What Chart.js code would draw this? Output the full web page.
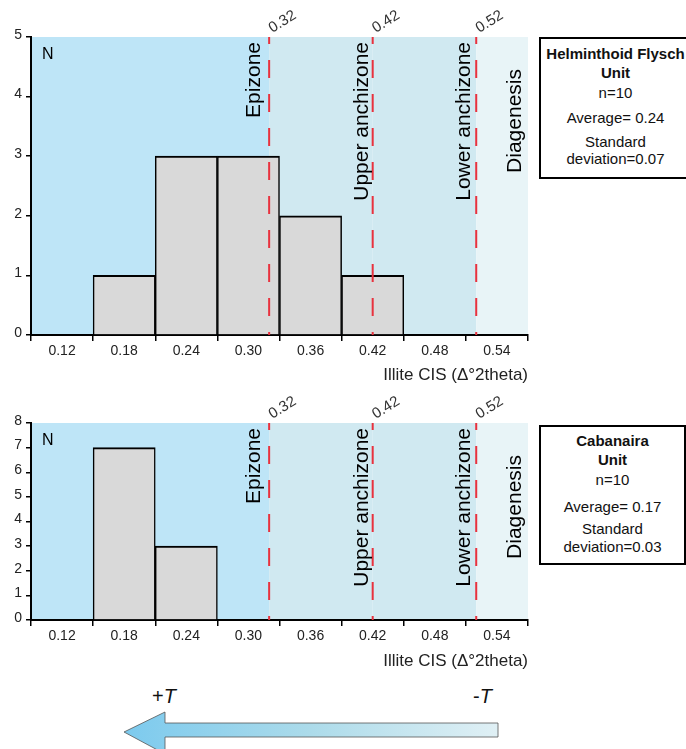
<!DOCTYPE html>
<html lang="en">
<head>
<meta charset="UTF-8">
<title>Illite CIS histograms</title>
<script src="https://cdn.jsdelivr.net/npm/chart.js"></script>
<style>
    body {
        margin: 0;
        width: 686px;
        height: 749px;
        position: relative;
        overflow: hidden;
        background: #fff;
        font-family: "Liberation Sans", Arial, sans-serif;
        color: #111;
    }
    canvas { position: absolute; left: 0; }
    #chart-top { top: 0; }
    #chart-bottom { top: 385px; }
    .box {
        position: absolute;
        left: 539px;
        border: 2px solid #000;
        box-sizing: border-box;
        background: #fff;
    }
    .box div {
        position: absolute;
        left: 0;
        right: 0;
        text-align: center;
        line-height: 18px;
        font-size: 15px;
        white-space: nowrap;
    }
    .box .b { font-weight: bold; }
    .temp {
        position: absolute;
        top: 685px;
        font-size: 20px;
        color: #111;
    }
    svg { position: absolute; left: 0; top: 680px; }
</style>
</head>
<body>
<canvas id="chart-top" width="540" height="386"></canvas>
<canvas id="chart-bottom" width="540" height="287"></canvas>

<div class="box" style="top:37px; width:153px; height:142px;">
    <div class="b" style="top:6px">Helminthoid Flysch</div>
    <div class="b" style="top:24.5px">Unit</div>
    <div style="top:45px">n=10</div>
    <div style="top:70px">Average= 0.24</div>
    <div style="top:94px">Standard</div>
    <div style="top:111px">deviation=0.07</div>
</div>
<div class="box" style="top:425px; width:147px; height:140px;">
    <div class="b" style="top:5px">Cabanaira</div>
    <div class="b" style="top:23.5px">Unit</div>
    <div style="top:44px">n=10</div>
    <div style="top:70.5px">Average= 0.17</div>
    <div style="top:93px">Standard</div>
    <div style="top:110.5px">deviation=0.03</div>
</div>

<svg width="686" height="69">
    <defs>
        <linearGradient id="tgrad" x1="0" x2="1" y1="0" y2="0">
            <stop offset="0" stop-color="#7ccaee"/>
            <stop offset="0.5" stop-color="#acdbea"/>
            <stop offset="1" stop-color="#e0f0f5"/>
        </linearGradient>
    </defs>
    <polygon points="124,52 165,32 165,43 498,43 498,57 165,57 165,74" fill="url(#tgrad)" stroke="#555" stroke-width="0.8"/>
</svg>
<div class="temp" style="left:152px">+<i>T</i></div>
<div class="temp" style="left:473px">-<i>T</i></div>

<script>
    // bins of 0.06 wide, labelled at their centres
    const binLabels = ['0.12', '0.18', '0.24', '0.30', '0.36', '0.42', '0.48', '0.54'];
    const helminthoidCounts = [0, 1, 3, 3, 2, 1, 0, 0];
    const cabanairaCounts = [0, 7, 3, 0, 0, 0, 0, 0];

    const zoneLimits = [0.32, 0.42, 0.52];
    const zoneLimitLabels = ['0.32', '0.42', '0.52'];
    const zoneNames = ['Epizone', 'Upper anchizone', 'Lower anchizone', 'Diagenesis'];

    const zoneColors = ['#bee5f7', '#d0e9f1', '#d0e9f1', '#e8f4f7'];
    const nameShift = [-9, -5, -6];
    const font = '"Liberation Sans", Arial, sans-serif';

    // value on the CIS axis -> fractional bin index on the category scale
    const firstCentre = parseFloat(binLabels[0]);
    const binWidth = parseFloat(binLabels[1]) - firstCentre;
    const cisPixel = (scale, v) => scale.getPixelForValue((v - firstCentre) / binWidth);

    const zonePlugin = {
        id: 'zones',
        beforeDraw(chart) {
            const { ctx, chartArea: a } = chart;
            const xs = chart.scales.x;
            ctx.save();
            zoneColors.forEach((c, i) => {
                const x0 = i === 0 ? a.left : cisPixel(xs, zoneLimits[i - 1]);
                const x1 = i === zoneColors.length - 1 ? a.right : cisPixel(xs, zoneLimits[i]);
                ctx.fillStyle = c;
                ctx.fillRect(x0, a.top, x1 - x0, a.bottom - a.top);
            });
            ctx.restore();
        },
        afterDatasetsDraw(chart) {
            const { ctx, chartArea: a } = chart;
            const xs = chart.scales.x;
            ctx.save();

            // dashed limits
            ctx.strokeStyle = '#e8323e';
            ctx.lineWidth = 2;
            ctx.setLineDash([18, 16]);
            ctx.lineDashOffset = 11;
            zoneLimits.forEach(v => {
                const x = cisPixel(xs, v);
                ctx.beginPath();
                ctx.moveTo(x, a.top);
                ctx.lineTo(x, a.bottom);
                ctx.stroke();
            });
            ctx.setLineDash([]);

            // limit values, tilted
            ctx.fillStyle = '#333';
            ctx.font = '15px ' + font;
            ctx.textAlign = 'left';
            ctx.textBaseline = 'alphabetic';
            zoneLimits.forEach((v, i) => {
                const x = cisPixel(xs, v);
                ctx.save();
                ctx.translate(x + 3, a.top - 4);
                ctx.rotate(-0.55);
                ctx.fillText(zoneLimitLabels[i], 0, 0);
                ctx.restore();
            });

            // zone names, vertical
            ctx.fillStyle = '#000';
            ctx.font = '21px ' + font;
            ctx.textAlign = 'right';
            zoneNames.forEach((name, i) => {
                const last = i >= zoneLimits.length;
                const x = last ? a.right - 7 : cisPixel(xs, zoneLimits[i]) + nameShift[i];
                const y = last ? a.top + 32 : a.top + 5;
                ctx.save();
                ctx.translate(x, y);
                ctx.rotate(-Math.PI / 2);
                ctx.fillText(name, 0, 0);
                ctx.restore();
            });

            // axis name
            ctx.font = '16px ' + font;
            ctx.textAlign = 'left';
            ctx.textBaseline = 'top';
            ctx.fillText('N', a.left + 11, a.top + 10);
            ctx.restore();
        }
    };

    function makeChart(id, counts, yMax, topPad, xHeight) {
        return new Chart(document.getElementById(id), {
            type: 'bar',
            data: {
                labels: binLabels,
                datasets: [{
                    data: counts,
                    backgroundColor: '#d9d9d9',
                    borderColor: '#000',
                    borderWidth: { top: 2, left: 1.5, right: 1.5, bottom: 0 },
                    borderSkipped: false,
                    barPercentage: 1,
                    categoryPercentage: 1
                }]
            },
            options: {
                responsive: false,
                animation: false,
                layout: { padding: { top: topPad, right: 12, left: 0, bottom: 0 } },
                plugins: { legend: { display: false }, tooltip: { enabled: false } },
                scales: {
                    x: {
                        offset: true,
                        grid: { offset: true, drawOnChartArea: false, tickLength: 6, color: '#000', lineWidth: 1.5 },
                        border: { color: '#000', width: 2 },
                        ticks: { color: '#222', font: { size: 14, family: font }, padding: 2, maxRotation: 0 },
                        title: {
                            display: true, text: 'Illite CIS (Δ°2theta)', align: 'end',
                            color: '#222', font: { size: 17, family: font }, padding: 0
                        },
                        afterFit(s) { s.height = xHeight; }
                    },
                    y: {
                        min: 0, max: yMax,
                        ticks: { stepSize: 1, color: '#222', font: { size: 14, family: font }, padding: 4, labelOffset: -2 },
                        grid: { drawOnChartArea: false, tickLength: 5, color: '#000', lineWidth: 1.5 },
                        border: { color: '#000', width: 2 },
                        afterFit(s) { s.width = 31; }
                    }
                }
            },
            plugins: [zonePlugin]
        });
    }

    makeChart('chart-top', helminthoidCounts, 5, 37, 51);
    makeChart('chart-bottom', cabanairaCounts, 8, 38, 52);
</script>
</body>
</html>
